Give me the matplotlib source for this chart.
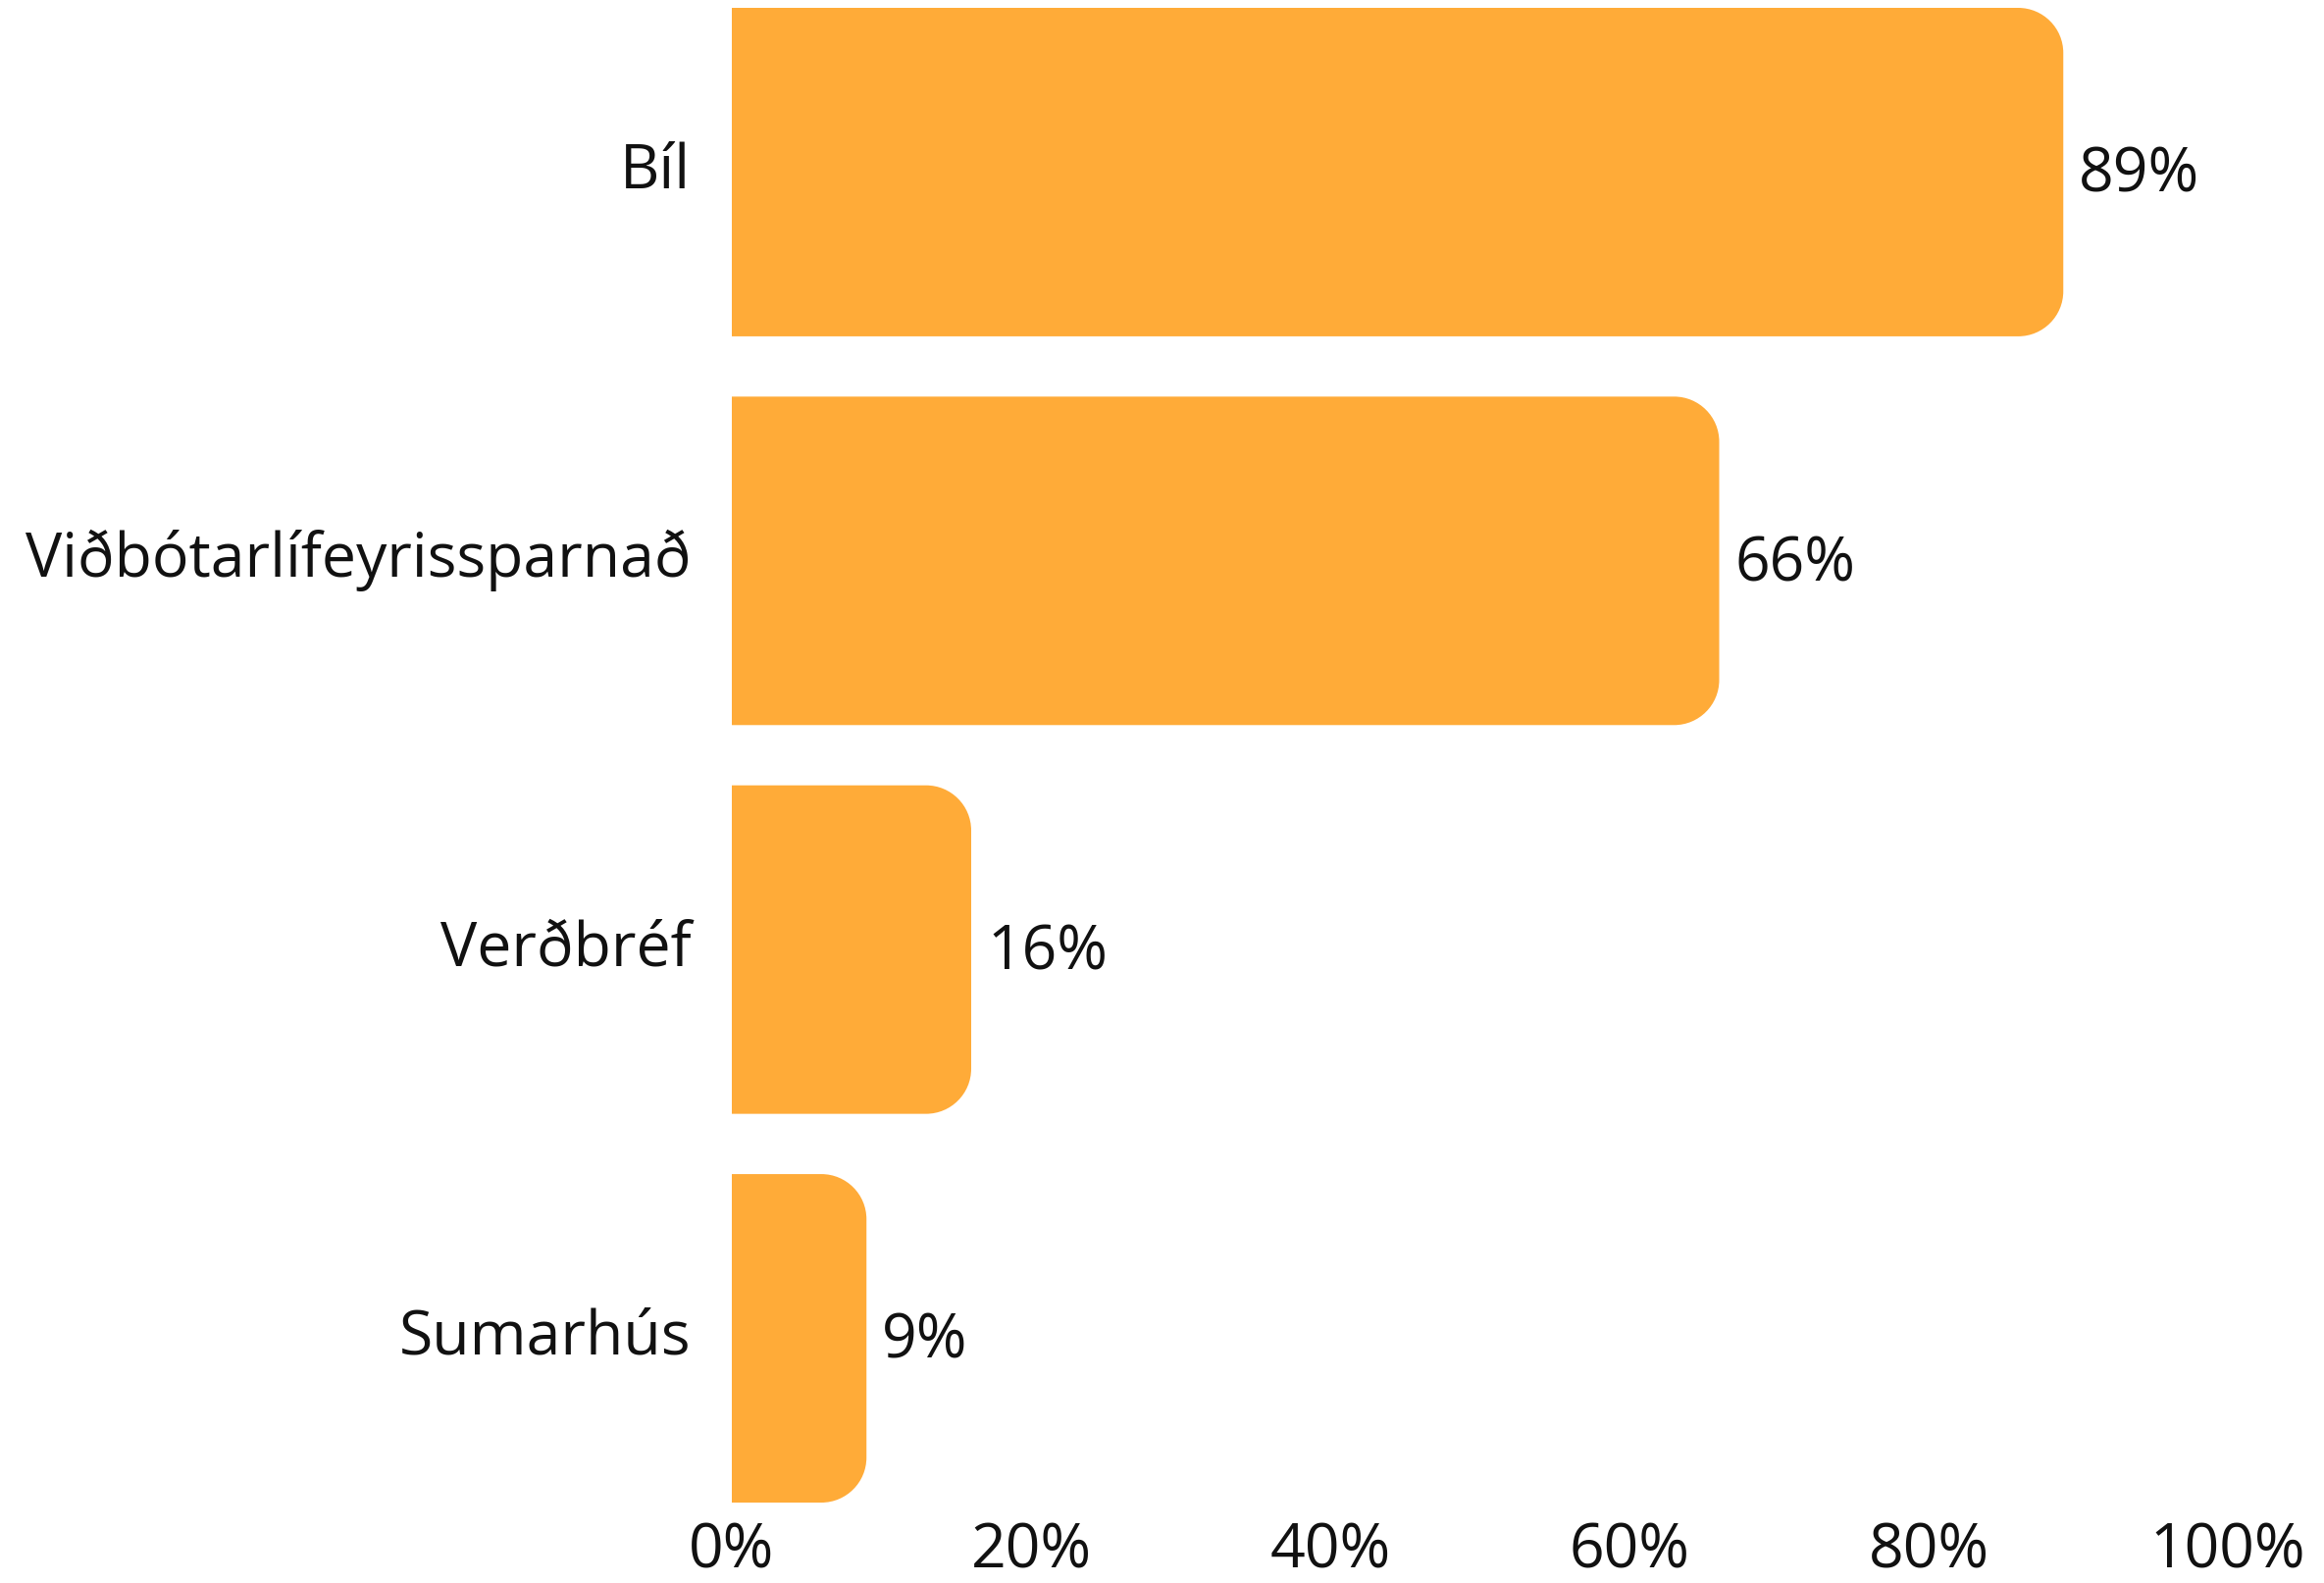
import numpy as np
import matplotlib
matplotlib.use('Agg')
import matplotlib.pyplot as plt
from matplotlib.path import Path
from matplotlib.patches import PathPatch

plt.rcParams['font.family'] = ['Open Sans', 'DejaVu Sans']

# data
categories = ['Bíl', 'Viðbótarlífeyrissparnað', 'Verðbréf', 'Sumarhús']
values = [89, 66, 16, 9]
xticks = [0, 20, 40, 60, 80, 100]
xtick_labels = ['0%', '20%', '40%', '60%', '80%', '100%']

bar_color = '#FFAB38'
bar_h = 0.845
corner_px = 46

W, H = 2369, 1614
fig = plt.figure(figsize=(W / 100, H / 100), dpi=100)
ax = fig.add_axes([746 / W, 1 - 1532 / H, 1525 / W, (1532 - 8) / H])
ax.set_xlim(0, 100)
n = len(categories)
ax.set_ylim(n - 1 + bar_h / 2, -bar_h / 2)

# px per data unit so the corners come out round
p0 = ax.transData.transform((0, 0))
p1 = ax.transData.transform((1, 1))
rx = corner_px / abs(p1[0] - p0[0])
ry = corner_px / abs(p1[1] - p0[1])
k = 0.5523


def rounded_bar(y, w):
    y0, y1 = y - bar_h / 2, y + bar_h / 2
    verts = [
        (0, y0), (w - rx, y0),
        (w - rx + k * rx, y0), (w, y0 + ry - k * ry), (w, y0 + ry),
        (w, y1 - ry),
        (w, y1 - ry + k * ry), (w - rx + k * rx, y1), (w - rx, y1),
        (0, y1), (0, y0),
    ]
    codes = [Path.MOVETO, Path.LINETO,
             Path.CURVE4, Path.CURVE4, Path.CURVE4,
             Path.LINETO,
             Path.CURVE4, Path.CURVE4, Path.CURVE4,
             Path.LINETO, Path.CLOSEPOLY]
    return PathPatch(Path(verts, codes), facecolor=bar_color, edgecolor='none')


fs = 45
for i, (cat, v) in enumerate(zip(categories, values)):
    ax.add_patch(rounded_bar(i, v))
    ax.text(v + 16 / abs(p1[0] - p0[0]), i + 0.01, f'{v}%', va='center', ha='left',
            fontsize=fs, color='#111111')

ax.set_yticks(range(n))
ax.set_yticklabels(categories, fontsize=fs, color='#111111')
for lab in ax.get_yticklabels():
    lab.set_verticalalignment('center')
ax.set_xticks(xticks)
ax.set_xticklabels(xtick_labels, fontsize=fs, color='#111111')
ax.tick_params(axis='y', length=0, pad=30)
ax.tick_params(axis='x', length=0, pad=14)
for s in ax.spines.values():
    s.set_visible(False)

fig.savefig('out.png', dpi=100)
